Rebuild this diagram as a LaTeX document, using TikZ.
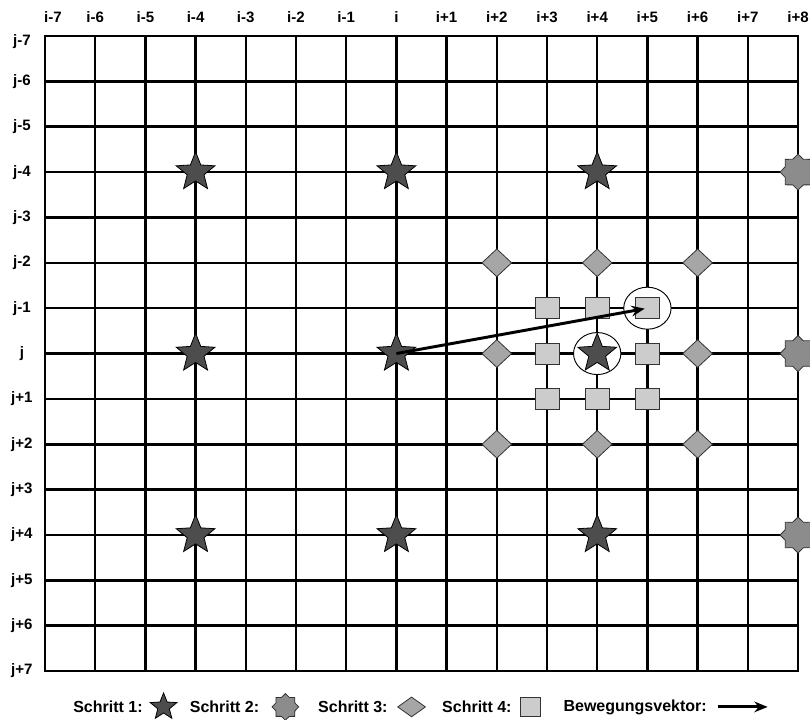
\documentclass[tikz,border=0pt]{standalone}
\usepackage{fontspec}
\setmainfont{Liberation Sans}
\usetikzlibrary{arrows.meta, positioning, shapes.geometric}
\definecolor{SternGrau}{RGB}{77,77,77}
\definecolor{AchtGrau}{RGB}{140,140,140}
\definecolor{RauteGrau}{RGB}{166,166,166}
\definecolor{QuadratGrau}{RGB}{204,204,204}

\begin{document}
\begin{tikzpicture}[
  x=37.65pt, y=-34.02pt,
  font=\bfseries,
  gitter/.style={line width=1.9pt, black},
  achse/.style={font=\fontsize{11.3}{13}\selectfont\bfseries, inner sep=0pt},
  schritteins/.style={star, star points=5, star point ratio=2.3, minimum size=30.5pt, inner sep=0pt,
    draw=black, line width=0.6pt, fill=SternGrau},
  schrittzwei/.style={star, star points=8, star point ratio=1.3, minimum size=27pt, inner sep=0pt,
    draw=black!80, line width=0.6pt, fill=AchtGrau},
  schrittdrei/.style={diamond, minimum width=22.5pt, minimum height=21pt, inner sep=0pt,
    draw=black!80, line width=0.6pt, fill=RauteGrau},
  schrittvier/.style={rectangle, minimum width=18pt, minimum height=15.75pt, inner sep=0pt,
    draw=black!80, line width=0.6pt, fill=QuadratGrau},
  marke/.style={ellipse, minimum width=35.5pt, minimum height=31.5pt, draw=black, line width=0.7pt, fill=white},
  legende/.style={font=\fontsize{12}{14}\selectfont\bfseries, inner sep=0pt},
  vektor/.style={-{Stealth[length=10pt, width=8pt]}, line width=2.2pt, black},
]
\useasboundingbox (-0.896,-0.794) rectangle (15.239,15.057);
\clip (-0.896,-0.794) rectangle (15.239,15.057);

% --- Gitter ---
\foreach \c in {1,...,14} \draw[gitter] (\c,0) -- (\c,14);
\foreach \r in {1,...,13} \draw[gitter] (0,\r) -- (15,\r);
\draw[gitter] (0,0) rectangle (15,14);

% --- Achsenbeschriftung ---
\node[achse] (ci-7) at (0.16,-0.42) {i-7};
\foreach \c in {-6,...,8} {
  \ifnum\c<0 \def\lbl{i\c}\else\ifnum\c=0 \def\lbl{i}\else\def\lbl{i+\c}\fi\fi
  \node[achse] (ci\c) at (\c+7,-0.42) {\lbl};
}
\node[achse] (rj-7) at (-0.46,0.13) {j-7};
\foreach \r in {-6,...,7} {
  \ifnum\r<0 \def\lbl{j\r}\else\ifnum\r=0 \def\lbl{j}\else\def\lbl{j+\r}\fi\fi
  \node[achse] (rj\r) at (-0.46,\r+7) {\lbl};
}

% --- Markierungen ---
\node[marke] (m1) at (11,7) {};
\node[marke] (m2) at (12,6) {};

% --- Schritt 1 bis 4 ---
\foreach \a in {-4,0,4} \foreach \b in {-4,0,4}
  \node[schritteins] (st\a\b) at (\a+7,\b+7) {};
\foreach \b in {-4,0,4}
  \node[schrittzwei] (ac\b) at (15,\b+7) {};
\foreach \a/\b in {2/-2,4/-2,6/-2,2/0,6/0,2/2,4/2,6/2}
  \node[schrittdrei] (ra\a\b) at (\a+7,\b+7) {};
\foreach \a/\b in {3/-1,4/-1,5/-1,3/0,5/0,3/1,4/1,5/1}
  \node[schrittvier] (qu\a\b) at (\a+7,\b+7) {};

\draw[vektor, shorten >=2pt] (st00.center) -- (qu5-1.center);

% --- Legende ---
\node[legende, anchor=west] (l1) at (0.558,14.79) {Schritt 1:};
\node[schritteins, minimum size=21pt, right=9pt of l1] (z1) {};
\node[legende, right=13pt of z1] (l2) {Schritt 2:};
\node[schrittzwei, minimum size=20pt, right=9pt of l2] (z2) {};
\node[legende, right=14pt of z2] (l3) {Schritt 3:};
\node[schrittdrei, minimum width=21pt, minimum height=15pt, right=7pt of l3] (z3) {};
\node[legende, right=12pt of z3] (l4) {Schritt 4:};
\node[schrittvier, minimum width=15pt, minimum height=14pt, right=6pt of l4] (z4) {};
\node[legende, right=17pt of z4] (l5) {Bewegungsvektor:};
\coordinate[right=8pt of l5] (v1);
\coordinate[right=37.5pt of v1] (v2);
\draw[vektor] (v1) -- (v2);

\end{tikzpicture}
\end{document}
